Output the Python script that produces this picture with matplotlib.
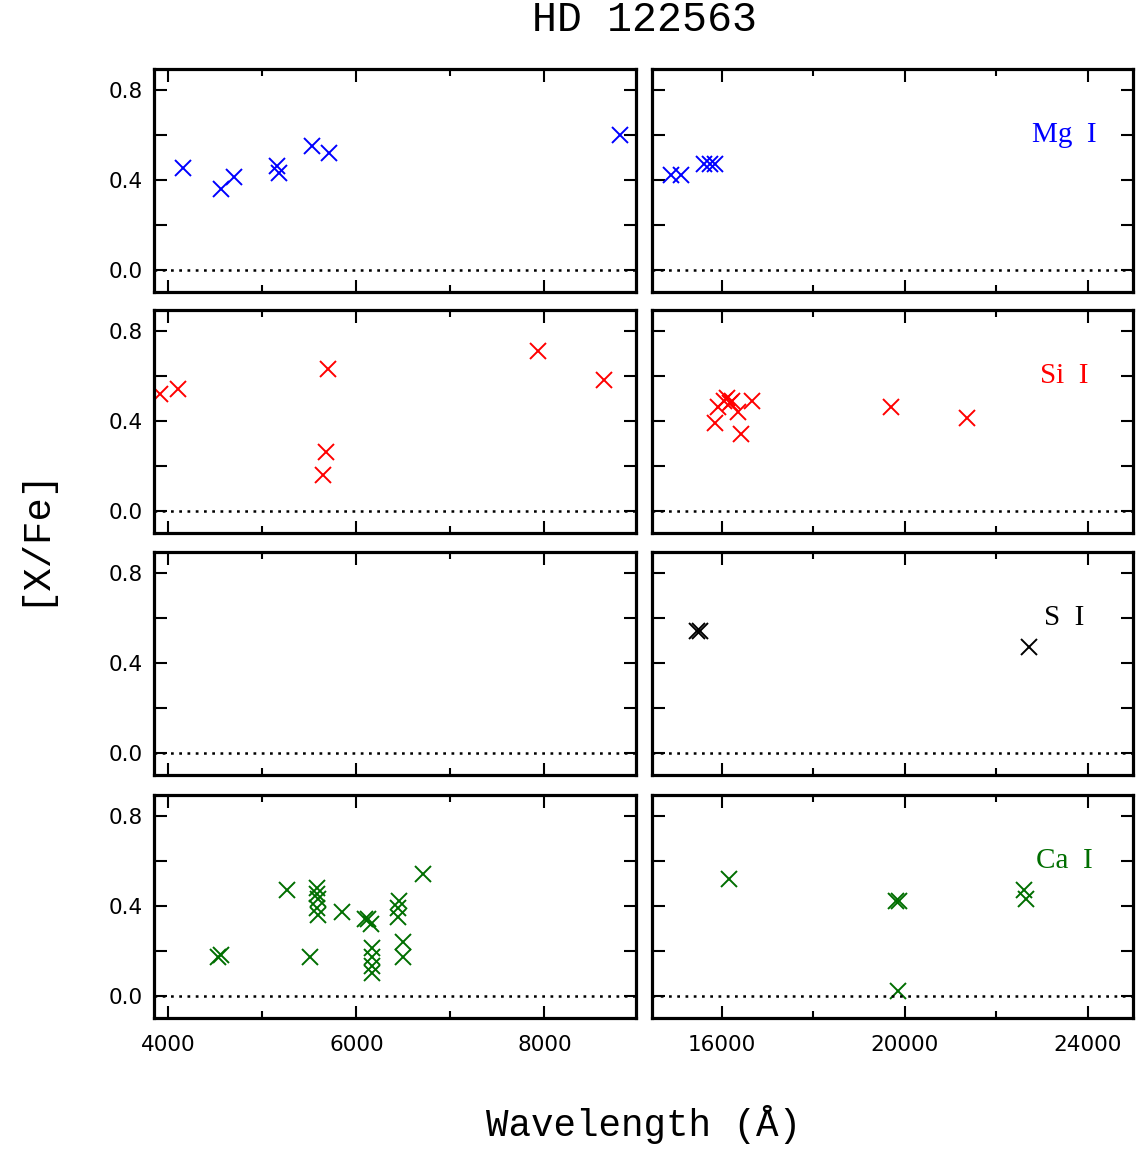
import matplotlib
matplotlib.use("Agg")
import matplotlib.pyplot as plt
from matplotlib.ticker import MultipleLocator, FixedLocator, FixedFormatter

# [X/Fe] per line for HD 122563, optical (left) and infrared (right)
mg_opt_wl = [4160, 4562, 4694, 5157, 5182, 5524, 5710, 8808]
mg_opt_xfe = [0.45, 0.36, 0.41, 0.46, 0.43, 0.55, 0.52, 0.60]
mg_ir_wl = [14890, 15105, 15620, 15740, 15860]
mg_ir_xfe = [0.42, 0.42, 0.47, 0.47, 0.47]

si_opt_wl = [3911, 4106, 5703, 5682, 5645, 7936, 8637]
si_opt_xfe = [0.52, 0.54, 0.63, 0.26, 0.16, 0.71, 0.58]
si_ir_wl = [15853, 15912, 16050, 16122, 16182, 16232, 16350, 16422, 16656, 19705, 21361]
si_ir_xfe = [0.39, 0.46, 0.49, 0.50, 0.48, 0.49, 0.44, 0.34, 0.49, 0.46, 0.41]

s_opt_wl = []
s_opt_xfe = []
s_ir_wl = [15460, 15530, 22709]
s_ir_xfe = [0.54, 0.54, 0.47]

ca_opt_wl = [4527, 4562, 5258, 5507, 5585, 5580, 5590, 5585, 5590,
             5852, 6094, 6119, 6160, 6165, 6165, 6165, 6165,
             6455, 6445, 6440, 6493, 6493, 6707]
ca_opt_xfe = [0.17, 0.18, 0.47, 0.17, 0.48, 0.45, 0.43, 0.39, 0.36,
              0.37, 0.34, 0.34, 0.32, 0.21, 0.17, 0.13, 0.10,
              0.42, 0.39, 0.35, 0.24, 0.17, 0.54]
ca_ir_wl = [16166, 19808, 19880, 19843, 22615, 22640]
ca_ir_xfe = [0.52, 0.42, 0.42, 0.02, 0.47, 0.43]

species = ['Mg  I', 'Si  I', 'S  I', 'Ca  I']
colors = ['#0000ff', '#ff0000', '#000000', '#006e00']
opt_wl = [mg_opt_wl, si_opt_wl, s_opt_wl, ca_opt_wl]
opt_xfe = [mg_opt_xfe, si_opt_xfe, s_opt_xfe, ca_opt_xfe]
ir_wl = [mg_ir_wl, si_ir_wl, s_ir_wl, ca_ir_wl]
ir_xfe = [mg_ir_xfe, si_ir_xfe, s_ir_xfe, ca_ir_xfe]

tick_font = ['DejaVu Sans']
mono = ['Liberation Mono', 'DejaVu Sans Mono']

fig = plt.figure(figsize=(11.37, 11.5), dpi=100)

lefts = [154 / 1137, 652 / 1137]
widths = [482 / 1137, 481 / 1137]
bottoms = [1 - 292 / 1150, 1 - 533 / 1150, 1 - 775 / 1150, 1 - 1018 / 1150]
height = 223 / 1150

for row in range(4):
    for col in range(2):
        ax = fig.add_axes([lefts[col], bottoms[row], widths[col], height])
        if col == 0:
            wl, xfe = opt_wl[row], opt_xfe[row]
            ax.set_xlim(3847, 8975)
            ax.xaxis.set_major_locator(MultipleLocator(2000))
            ax.xaxis.set_minor_locator(MultipleLocator(1000))
        else:
            wl, xfe = ir_wl[row], ir_xfe[row]
            ax.set_xlim(14480, 24985)
            ax.xaxis.set_major_locator(MultipleLocator(4000))
            ax.xaxis.set_minor_locator(MultipleLocator(2000))
        ax.plot(wl, xfe, linestyle='none', marker='x', color=colors[row],
                markersize=11.5, markeredgewidth=1.4)
        ax.axhline(0, color='black', linewidth=1.8, linestyle=(0, (1.1, 2.2)))
        ax.set_ylim(-0.1, 0.893)
        ax.yaxis.set_major_locator(FixedLocator([0.0, 0.2, 0.4, 0.6, 0.8]))
        ax.yaxis.set_major_formatter(FixedFormatter(['0.0', '', '0.4', '', '0.8']))

        ax.tick_params(which='both', direction='in', top=True, right=True, width=1.5)
        ax.tick_params(which='major', length=9)
        ax.tick_params(which='minor', length=5)
        ax.tick_params(labelbottom=(row == 3), labelleft=(col == 0), labelsize=15.5)
        ax.tick_params(axis='x', pad=12)
        ax.tick_params(axis='y', pad=8)
        for lab in ax.get_xticklabels() + ax.get_yticklabels():
            lab.set_family(tick_font)
        for sp in ax.spines.values():
            sp.set_linewidth(2.3)

        if col == 1:
            ax.text(23490, 0.6, species[row], color=colors[row], ha='center',
                    va='center', fontsize=21, family='Liberation Serif')

fig.text(645 / 1137, 1 - 20 / 1150, 'HD 122563', ha='center', va='center',
         fontsize=30, family=mono)
fig.text(644 / 1137, 1 - 1124 / 1150, 'Wavelength (Å)', ha='center', va='center',
         fontsize=27, family=mono)
fig.text(33 / 1137, 1 - 536 / 1150, '[X/Fe]', ha='center', va='center',
         rotation=90, fontsize=28, family=mono)

fig.savefig('out.png', dpi=100)
